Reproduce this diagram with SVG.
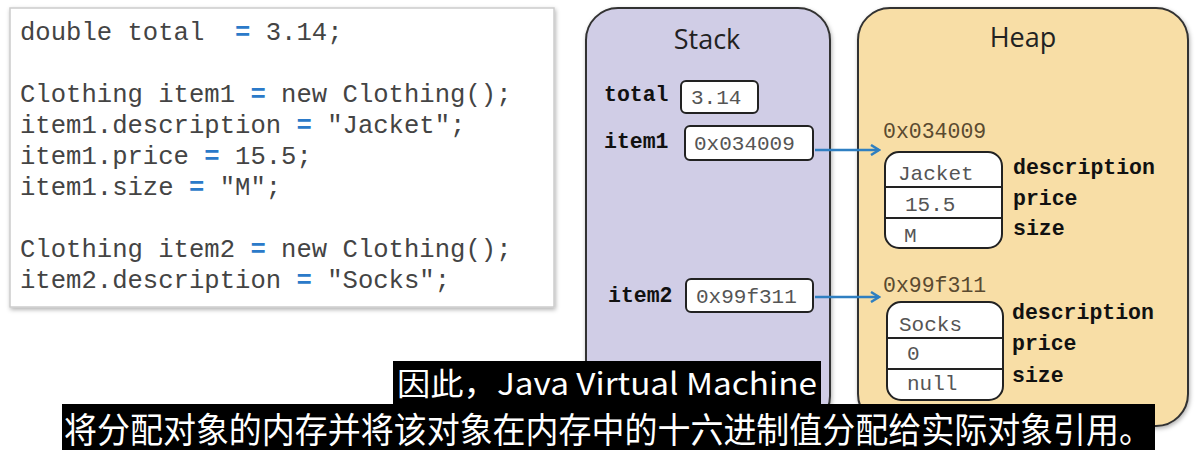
<svg xmlns="http://www.w3.org/2000/svg" width="1199" height="455" viewBox="0 0 1199 455">
<style>
.code{font-family:"Liberation Mono",monospace;font-size:25.6px;fill:#444}
.eq{fill:#2b7ac9;font-weight:bold}
.title{font-family:"Open Sans","Noto Sans",sans-serif;font-size:27px;fill:#222;text-anchor:middle}
.lbl{font-family:"Liberation Mono",monospace;font-size:21.5px;font-weight:bold;fill:#111}
.val{font-family:"Liberation Mono",monospace;font-size:21px;fill:#555}
.addr{font-family:"Liberation Mono",monospace;font-size:21.5px;fill:#5a4a30}
.box{fill:#fff;stroke:#222;stroke-width:2}
.conn{stroke:#2f7fc1;stroke-width:2.5;fill:none}
.sub{font-family:"Noto Sans CJK SC","Noto Sans",sans-serif;fill:#fff}
</style>
<defs>
<marker id="ah" markerWidth="12" markerHeight="12" refX="10" refY="6" orient="auto" markerUnits="userSpaceOnUse">
<path d="M2,1 L10,6 L2,11" fill="none" stroke="#2f7fc1" stroke-width="2.5"/>
</marker>
<filter id="sh" x="-5%" y="-5%" width="110%" height="110%">
<feDropShadow dx="1" dy="2" stdDeviation="2" flood-color="#000" flood-opacity="0.3"/>
</filter>
</defs>
<rect width="1199" height="455" fill="#fff"/>
<g id="code">
<rect x="10" y="8" width="544" height="299" fill="#fff" stroke="#ccc" stroke-width="1.5" filter="url(#sh)"/>
<text class="code" x="20" y="40" xml:space="preserve">double total  <tspan class="eq">=</tspan> 3.14;</text>
<text class="code" x="20" y="102" xml:space="preserve">Clothing item1 <tspan class="eq">=</tspan> new Clothing();</text>
<text class="code" x="20" y="133" xml:space="preserve">item1.description <tspan class="eq">=</tspan> "Jacket";</text>
<text class="code" x="20" y="164" xml:space="preserve">item1.price <tspan class="eq">=</tspan> 15.5;</text>
<text class="code" x="20" y="195" xml:space="preserve">item1.size <tspan class="eq">=</tspan> "M";</text>
<text class="code" x="20" y="257" xml:space="preserve">Clothing item2 <tspan class="eq">=</tspan> new Clothing();</text>
<text class="code" x="20" y="288" xml:space="preserve">item2.description <tspan class="eq">=</tspan> "Socks";</text>
</g>
<g id="stack">
<rect x="586" y="8" width="244" height="420" rx="32" fill="#d0cde6" stroke="#333" stroke-width="2" filter="url(#sh)"/>
<text class="title" x="707" y="49">Stack</text>
</g>
<g id="heap">
<rect x="858" y="8" width="330" height="418" rx="32" fill="#f8dea6" stroke="#333" stroke-width="2" filter="url(#sh)"/>
<text class="title" x="1023" y="47">Heap</text>
</g>
<g id="var-total">
<text class="lbl" x="604" y="101">total</text>
<rect class="box" x="681" y="81" width="77" height="32" rx="5"/>
<text class="val" x="691" y="104">3.14</text>
</g>
<g id="var-item1">
<text class="lbl" x="604" y="148">item1</text>
<rect class="box" x="685" y="126" width="128" height="34" rx="5"/>
<text class="val" x="694" y="150">0x034009</text>
</g>
<g id="var-item2">
<text class="lbl" x="608" y="302">item2</text>
<rect class="box" x="686" y="279" width="127" height="33" rx="5"/>
<text class="val" x="696" y="303">0x99f311</text>
</g>
<g id="obj1">
<text class="addr" x="883" y="138">0x034009</text>
<rect class="box" x="885" y="152" width="117" height="96" rx="14"/>
<line x1="885" y1="187" x2="1002" y2="187" stroke="#222" stroke-width="2"/>
<line x1="885" y1="218" x2="1002" y2="218" stroke="#222" stroke-width="2"/>
<text class="val" x="898" y="180">Jacket</text>
<text class="val" x="905" y="211">15.5</text>
<text class="val" x="904" y="242">M</text>
<text class="lbl" x="1013" y="174">description</text>
<text class="lbl" x="1013" y="205">price</text>
<text class="lbl" x="1013" y="235">size</text>
</g>
<g id="obj2">
<text class="addr" x="883" y="292">0x99f311</text>
<rect class="box" x="887" y="302" width="116" height="98" rx="14"/>
<line x1="887" y1="338" x2="1003" y2="338" stroke="#222" stroke-width="2"/>
<line x1="887" y1="369" x2="1003" y2="369" stroke="#222" stroke-width="2"/>
<text class="val" x="899" y="331">Socks</text>
<text class="val" x="907" y="360">0</text>
<text class="val" x="907" y="390">null</text>
<text class="lbl" x="1012" y="319">description</text>
<text class="lbl" x="1012" y="350">price</text>
<text class="lbl" x="1012" y="382">size</text>
</g>
<g id="connectors">
<line class="conn" x1="815" y1="150" x2="879" y2="150" marker-end="url(#ah)"/>
<line class="conn" x1="815" y1="297" x2="879" y2="297" marker-end="url(#ah)"/>
</g>
<g id="subtitle">
<rect x="393" y="361" width="428" height="43" fill="#000"/>
<text class="sub" transform="translate(397,395) scale(1,1.05)" font-size="29" textLength="420" lengthAdjust="spacingAndGlyphs">因此，Java Virtual Machine</text>
<rect x="62" y="404" width="1093" height="46" fill="#000"/>
<text class="sub" transform="translate(64,443) scale(1,1.1)" font-size="32" textLength="1088" lengthAdjust="spacingAndGlyphs">将分配对象的内存并将该对象在内存中的十六进制值分配给实际对象引用。</text>
</g>
</svg>
